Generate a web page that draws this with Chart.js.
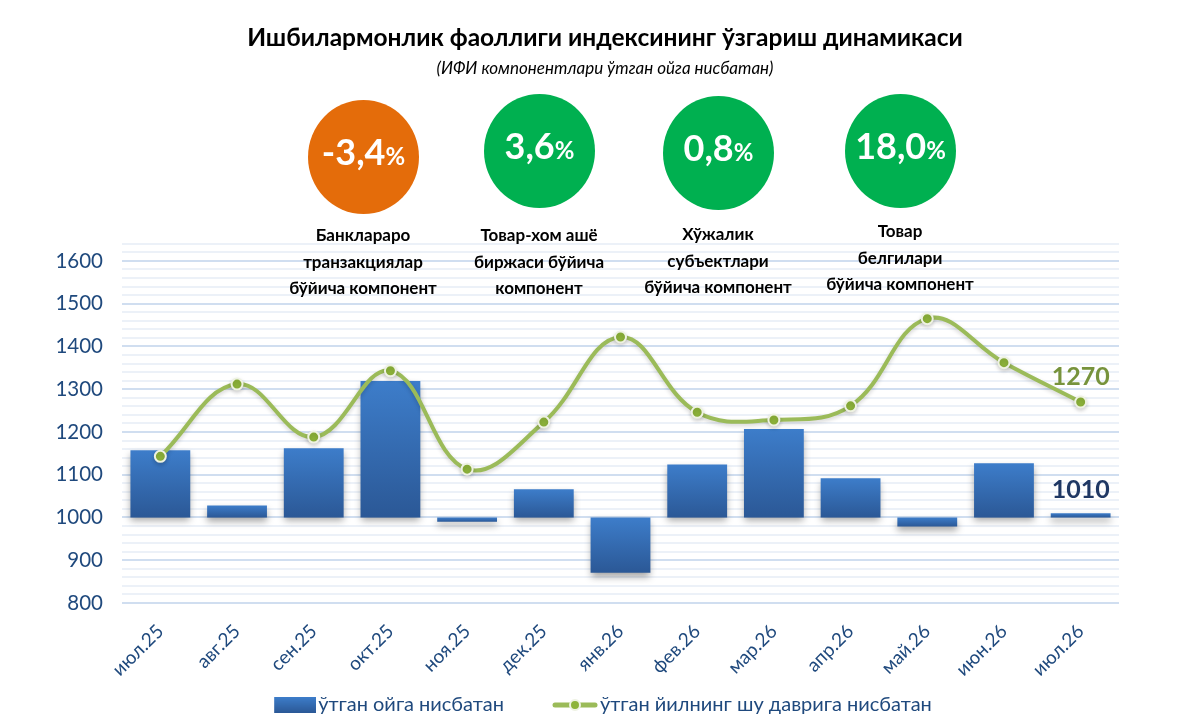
<!DOCTYPE html>
<html>
<head>
<meta charset="utf-8">
<script src="https://cdn.jsdelivr.net/npm/chart.js@4.4.1/dist/chart.umd.min.js"></script>
<style>
    html, body { margin: 0; padding: 0; background: #fff; }
    #wrap { position: relative; width: 1195px; height: 725px; }
    #chart { position: absolute; left: 0; top: 0; }
    .bubble {
        position: absolute; width: 111px; height: 114px; border-radius: 50%;
        color: #fff; font-family: Lato, sans-serif;
        font-weight: bold; font-size: 36px; display: flex; align-items: center; justify-content: center;
    }
    .bubble span { position: relative; top: -6px; }
    .bubble small { font-size: 24px; }
    .caption {
        position: absolute; width: 200px; text-align: center; color: #000;
        font-family: Lato, sans-serif; font-weight: bold; font-size: 17px; line-height: 26.5px;
    }
</style>
</head>
<body>
<div id="wrap">
    <canvas id="chart" width="1195" height="725"></canvas>
</div>
<script>
const months = ["июл.25", "авг.25", "сен.25", "окт.25", "ноя.25", "дек.25", "янв.26", "фев.26", "мар.26", "апр.26", "май.26", "июн.26", "июл.26"];
// ўтган ойга нисбатан (bars start at 1000)
const monthValues = [1157, 1028, 1162, 1319, 990, 1066, 871, 1124, 1207, 1092, 979, 1127, 1010];
// ўтган йилнинг шу даврига нисбатан
const yearValues = [1143, 1312, 1188, 1343, 1113, 1223, 1422, 1246, 1228, 1261, 1465, 1362, 1270];
const baseLevel = 1000;

const componentValues = ["-3,4", "3,6", "0,8", "18,0"];
const componentNames = [
    ["Банклараро", "транзакциялар", "бўйича компонент"],
    ["Товар-хом ашё", "биржаси бўйича", "компонент"],
    ["Хўжалик", "субъектлари", "бўйича компонент"],
    ["Товар", "белгилари", "бўйича компонент"]
];

const textBlue = "#1F497D";
const lineGreen = "#9BBB59";

// component bubbles above the chart
const bubblePos = [[308, 100, "#E46C0A", 235], [484, 94, "#00B050", 235], [663, 96, "#00B050", 234], [845, 94, "#00B050", 231]];
const wrap = document.getElementById("wrap");
componentValues.forEach((v, i) => {
    const [x, y, color, capY] = bubblePos[i];
    const b = document.createElement("div");
    b.className = "bubble";
    b.style.left = x + "px";
    b.style.top = y + "px";
    b.style.background = color;
    b.innerHTML = `<span>${v}<small>%</small></span>`;
    wrap.appendChild(b);

    const c = document.createElement("div");
    c.className = "caption";
    c.style.left = (x + 55 - 100) + "px";
    c.style.top = (capY - 13) + "px";
    c.innerHTML = componentNames[i].join("<br>");
    wrap.appendChild(c);
});

// legend swatches: the image is a bit wider than the legend box so the swatch sits close to its text
const swatchW = 30;
const swatchImgW = swatchW + 16;
function barSwatch() {
    const cv = document.createElement("canvas");
    cv.width = swatchImgW; cv.height = 16;
    const g = cv.getContext("2d");
    const grad = g.createLinearGradient(0, 0, 0, 16);
    grad.addColorStop(0, "#3D7DCA");
    grad.addColorStop(1, "#2B5896");
    g.fillStyle = grad;
    g.fillRect(swatchImgW - 42, 0, 42, 16);
    return cv;
}
function lineSwatch() {
    const cv = document.createElement("canvas");
    cv.width = swatchImgW; cv.height = 16;
    const g = cv.getContext("2d");
    const x0 = swatchImgW - 46;
    g.strokeStyle = lineGreen;
    g.lineWidth = 5;
    g.lineCap = "round";
    g.beginPath(); g.moveTo(x0 + 3, 8); g.lineTo(x0 + 43, 8); g.stroke();
    g.fillStyle = "#8DB33A";
    g.strokeStyle = "#EEF2E2";
    g.lineWidth = 2;
    g.beginPath(); g.arc(x0 + 23, 8, 5, 0, Math.PI * 2); g.fill(); g.stroke();
    return cv;
}

function barFill(context) {
    const chart = context.chart;
    const y = chart.scales.y;
    if (!chart.chartArea || !y || context.dataIndex === undefined) return "#3A72BC";
    const v = monthValues[context.dataIndex];
    const top = y.getPixelForValue(Math.max(v, baseLevel));
    const bottom = y.getPixelForValue(Math.min(v, baseLevel));
    if (!isFinite(top) || !isFinite(bottom) || bottom - top < 1) return "#3A72BC";
    const grad = chart.ctx.createLinearGradient(0, top, 0, bottom);
    grad.addColorStop(0, "#3D7DCA");
    grad.addColorStop(1, "#2B5896");
    return grad;
}

const shadowPlugin = {
    id: "barShadow",
    beforeDatasetDraw(chart, args) {
        const ctx = chart.ctx;
        ctx.save();
        if (args.meta.type === "bar") {
            ctx.shadowColor = "rgba(0, 0, 0, 0.35)";
            ctx.shadowBlur = 7;
            ctx.shadowOffsetY = 4;
        } else {
            ctx.shadowColor = "rgba(0, 0, 0, 0.18)";
            ctx.shadowBlur = 4;
            ctx.shadowOffsetY = 2;
        }
    },
    afterDatasetDraw(chart) {
        chart.ctx.restore();
    }
};

// value labels for the last month
const lastLabels = {
    id: "lastLabels",
    afterDatasetsDraw(chart) {
        const ctx = chart.ctx;
        const last = months.length - 1;
        const linePt = chart.getDatasetMeta(1).data[last];
        const barEl = chart.getDatasetMeta(0).data[last];
        ctx.save();
        ctx.font = "bold 25px Lato, sans-serif";
        ctx.textAlign = "center";
        ctx.textBaseline = "middle";
        ctx.fillStyle = "#77933C";
        ctx.fillText(String(yearValues[last]), linePt.x, linePt.y - 25);
        ctx.fillStyle = "#1F3864";
        ctx.fillText(String(monthValues[last]), barEl.x, barEl.y - 23);
        ctx.restore();
    }
};

const ctx = document.getElementById("chart").getContext("2d");
new Chart(ctx, {
    type: "bar",
    data: {
        labels: months,
        datasets: [{
            type: "bar",
            label: "ўтган ойга нисбатан",
            data: monthValues.map(v => [baseLevel, v]),
            backgroundColor: barFill,
            barPercentage: 0.78,
            categoryPercentage: 1,
            order: 2
        }, {
            type: "line",
            label: "ўтган йилнинг шу даврига нисбатан",
            data: yearValues,
            borderColor: lineGreen,
            borderWidth: 4,
            tension: 0.4,
            pointRadius: 5.5,
            pointBackgroundColor: "#8DB33A",
            pointBorderColor: "#EEF2E2",
            pointBorderWidth: 2,
            order: 1
        }]
    },
    options: {
        responsive: false,
        animation: false,
        layout: { padding: { left: 15, right: 0, bottom: 0 } },
        plugins: {
            title: {
                display: true,
                text: "Ишбилармонлик фаоллиги индексининг ўзгариш динамикаси",
                color: "#000",
                font: { family: "Lato", size: 24.5, weight: "bold" },
                padding: { top: 23, bottom: 3 }
            },
            subtitle: {
                display: true,
                text: "(ИФИ компонентлари ўтган ойга нисбатан)",
                color: "#000",
                font: { family: "Lato", size: 17, style: "italic" },
                padding: { top: 3, bottom: 165 }
            },
            legend: {
                position: "bottom",
                labels: {
                    usePointStyle: true,
                    pointStyleWidth: swatchW,
                    color: textBlue,
                    font: { family: "Lato", size: 20 },
                    padding: 6,
                    generateLabels(chart) {
                        const last = chart.data.datasets.length - 1;
                        return chart.data.datasets.map((ds, i) => ({
                            // wide spaces after the first label keep the items apart
                            text: i < last ? ds.label + "\u2003\u2003\u2002\u2002" : ds.label,
                            pointStyle: i === 0 ? barSwatch() : lineSwatch(),
                            fontColor: textBlue,
                            datasetIndex: i,
                            hidden: false
                        }));
                    }
                }
            },
            tooltip: { enabled: false }
        },
        scales: {
            x: {
                grid: { display: false },
                border: { display: false },
                ticks: {
                    color: textBlue,
                    font: { family: "Lato", size: 19 },
                    minRotation: 45,
                    maxRotation: 45,
                    padding: 9
                },
                afterFit(scale) { scale.height = 86; }
            },
            y: {
                min: 800,
                max: 1640,
                border: { display: false },
                grid: {
                    drawTicks: false,
                    lineWidth: 2,
                    color: c => (c.tick && c.tick.value % 100 === 0) ? "#D0DEF0" : "#ECF1F8"
                },
                ticks: {
                    stepSize: 20,
                    autoSkip: false,
                    color: textBlue,
                    font: { family: "Lato", size: 20.5 },
                    padding: 19,
                    callback: v => (v % 100 === 0 ? v : "")
                },
                afterFit(scale) { scale.width = 107; }
            },
            yRight: {
                position: "right",
                grid: { display: false },
                border: { display: false },
                ticks: { display: false },
                afterFit(scale) { scale.width = 76; }
            }
        }
    },
    plugins: [shadowPlugin, lastLabels]
});
</script>
</body>
</html>
